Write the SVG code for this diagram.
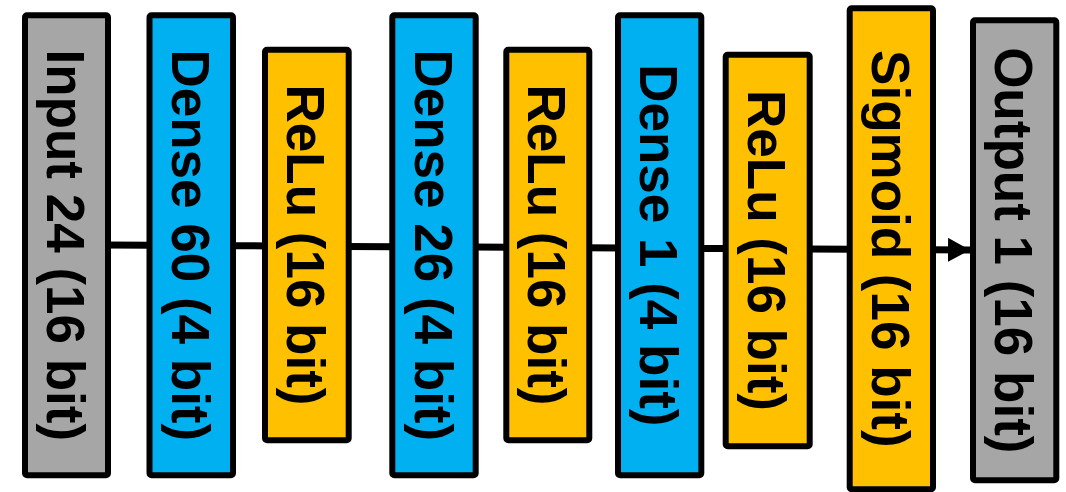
<svg xmlns="http://www.w3.org/2000/svg" width="1066" height="492" viewBox="0 0 1066 492">
  <style>
    .box { stroke: #000; stroke-width: 6; }
    .io { fill: #A6A6A6; }
    .dense { fill: #00B0F0; }
    .act { fill: #FFC000; }
    .label { font-family: "Liberation Sans", Arial, sans-serif; font-weight: bold; font-size: 53px; fill: #000; text-anchor: middle; }
    .wire { stroke: #000; stroke-width: 7; fill: none; }
  </style>
  <defs>
    <marker id="arrow" viewBox="0 0 22 24" refX="22" refY="12" markerWidth="22" markerHeight="24" markerUnits="userSpaceOnUse" orient="auto">
      <path d="M0,0 L22,12 L0,24 Z" fill="#000"/>
    </marker>
  </defs>

  <rect width="1066" height="492" fill="#fff"/>

  <!-- data path -->
  <g id="connectors">
    <line class="wire" x1="105" y1="245" x2="152" y2="245.3"/>
    <line class="wire" x1="230" y1="245.7" x2="268" y2="245.9"/>
    <line class="wire" x1="346" y1="246.4" x2="395" y2="246.7"/>
    <line class="wire" x1="473" y1="247.1" x2="509" y2="247.3"/>
    <line class="wire" x1="586" y1="247.8" x2="621" y2="248"/>
    <line class="wire" x1="698" y1="248.4" x2="729" y2="248.6"/>
    <line class="wire" x1="807" y1="249" x2="853" y2="249.3"/>
    <line class="wire" x1="930" y1="249.7" x2="970" y2="250" marker-end="url(#arrow)"/>
  </g>

  <g id="input">
    <rect class="box io" x="25" y="15.3" width="83" height="460" rx="2"/>
    <text class="label" transform="translate(47,245.3) rotate(90)">Input 24 (16 bit)</text>
  </g>

  <g id="dense60">
    <rect class="box dense" x="149.5" y="15.3" width="83.5" height="460" rx="2"/>
    <text class="label" transform="translate(171.7,245.3) rotate(90)">Dense 60 (4 bit)</text>
  </g>

  <g id="relu1">
    <rect class="box act" x="265" y="49.7" width="83.7" height="390.6" rx="2"/>
    <text class="label" transform="translate(287.3,245) rotate(90)">ReLu (16 bit)</text>
  </g>

  <g id="dense26">
    <rect class="box dense" x="392.3" y="15.3" width="83.4" height="460" rx="2"/>
    <text class="label" transform="translate(414.5,245.3) rotate(90)">Dense 26 (4 bit)</text>
  </g>

  <g id="relu2">
    <rect class="box act" x="506.3" y="49.7" width="83" height="390.6" rx="2"/>
    <text class="label" transform="translate(528.3,245) rotate(90)">ReLu (16 bit)</text>
  </g>

  <g id="dense1">
    <rect class="box dense" x="618" y="15.3" width="83.3" height="460" rx="2"/>
    <text class="label" transform="translate(640.2,245.3) rotate(90)">Dense 1 (4 bit)</text>
  </g>

  <g id="relu3">
    <rect class="box act" x="725.7" y="54.7" width="84" height="391.6" rx="2"/>
    <text class="label" transform="translate(748.2,250.5) rotate(90)">ReLu (16 bit)</text>
  </g>

  <g id="sigmoid">
    <rect class="box act" x="849.7" y="8.3" width="83.3" height="481" rx="2"/>
    <text class="label" transform="translate(871.9,248.8) rotate(90)">Sigmoid (16 bit)</text>
  </g>

  <g id="output">
    <rect class="box io" x="973" y="20.3" width="83.3" height="460" rx="2"/>
    <text class="label" transform="translate(995.2,250.3) rotate(90)">Output 1 (16 bit)</text>
  </g>
</svg>
